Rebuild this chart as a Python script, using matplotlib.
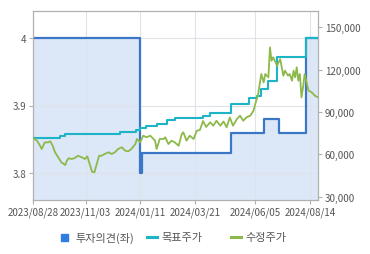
import matplotlib
matplotlib.use("Agg")
import matplotlib.pyplot as plt
import matplotlib.dates as mdates
from matplotlib.lines import Line2D
from matplotlib.patches import Rectangle
from matplotlib.ticker import FuncFormatter
import pandas as pd

plt.rcParams['font.family'] = ['Noto Sans CJK KR', 'DejaVu Sans']

start_date = "2023-08-28"
end_day = 362

# 투자의견 (left axis), step changes: day offset from start_date, value
opinion_day = [0, 136, 139, 252, 294, 313, 347]
opinion_val = [4.0, 3.8, 3.83, 3.86, 3.88, 3.86, 4.0]

# 목표주가 (right axis), step changes
target_day = [0, 34, 41, 110, 131, 136, 144, 157, 170, 180, 216, 225, 251, 274, 284, 290, 299, 310, 347]
target_val = [71400, 72800, 74200, 75600, 77500, 78500, 80300, 81500, 84300, 86000,
              87400, 89000, 95700, 99800, 101500, 106300, 112200, 128700, 142400]

# 수정주가 (right axis)
price_day = [0, 5, 9, 11, 15, 19, 22, 25, 28, 32, 36, 41, 43, 45, 49, 53, 57, 62, 66, 69,
             72, 75, 78, 81, 84, 87, 91, 96, 100, 104, 108, 113, 117, 121, 125, 130, 132, 136,
             140, 144, 149, 155, 157, 161, 166, 168, 172, 176, 180, 185, 189, 191, 195, 199,
             204, 208, 212, 216, 220, 225, 229, 233, 238, 242, 246, 250, 254, 259, 263, 267,
             271, 276, 280, 282, 286, 290, 293, 295, 299, 301, 303, 305, 310, 314, 318, 320,
             324, 326, 329, 331, 333, 335, 337, 339, 341, 343, 345, 348, 350, 354, 358, 362]
price_val = [71600, 69700, 66100, 63800, 68500, 68500, 69200, 66100, 61450, 57900, 54400,
             52450, 55500, 57200, 56700, 57400, 59000, 57900, 56700, 58600, 53200, 47700,
             47300, 53200, 59000, 59000, 60250, 61450, 60250, 61450, 63800, 65000, 62600,
             62150, 63800, 67300, 70900, 68500, 73200, 72100, 73200, 69700, 63800, 70900,
             70900, 72100, 67300, 69700, 68500, 66100, 74400, 75600, 69700, 73200, 70900,
             76750, 77250, 83600, 79400, 82700, 80300, 83800, 80300, 83300, 79200, 86200,
             80300, 85000, 87400, 83800, 86200, 87400, 90900, 95000, 102750, 116900, 111000,
             116900, 114600, 135800, 126300, 128750, 122800, 127500, 115700, 119300, 115700,
             116900, 112200, 119300, 114600, 121700, 112200, 116900, 100400, 107500, 116900,
             109800, 105100, 103950, 101550, 100400]

x_ticks = ["2023-08-28", "2023-11-03", "2024-01-11", "2024-03-21", "2024-06-05", "2024-08-14"]
left_ticks = [3.8, 3.9, 4.0]
left_labels = ["3.8", "3.9", "4"]
right_ticks = [30000, 60000, 90000, 120000, 150000]
legend_labels = ["투자의견(좌)", "목표주가", "수정주가"]

base = pd.Timestamp(start_date)
def to_dates(days):
    return [base + pd.Timedelta(days=d) for d in days]

end_date = base + pd.Timedelta(days=end_day)

op_x = to_dates(opinion_day) + [end_date]
op_y = opinion_val + [opinion_val[-1]]
tg_x = to_dates(target_day) + [end_date]
tg_y = target_val + [target_val[-1]]
pr_x = to_dates(price_day)

c_fill = '#dce7f7'
c_blue = '#3a77c6'
c_cyan = '#1db4c8'
c_green = '#8db94b'
c_spine = '#b0b0b0'
c_text = '#555555'
c_grid = '#dfe3e8'

fig = plt.figure(figsize=(3.7, 2.55), dpi=100)
ax = fig.add_axes([33/370, 1-201/255, (318-33)/370, (201-12)/255])
ax2 = ax.twinx()

y_lo, y_hi = 3.76, 4.04
ax.fill_between(op_x, op_y, y_lo, step='post', color=c_fill, lw=0, zorder=1)
ax.step(op_x, op_y, where='post', color=c_blue, lw=1.6, zorder=3)
ax.set_ylim(y_lo, y_hi)
ax.set_xlim(base, end_date)

ax2.step(tg_x, tg_y, where='post', color=c_cyan, lw=1.5, zorder=3)
ax2.plot(pr_x, price_val, color=c_green, lw=1.3, zorder=4)
ax2.set_ylim(27660, 161550)

ax.set_axisbelow(False)
ax.grid(True, color=c_grid, lw=0.8, zorder=2)
ax.set_xticks(pd.to_datetime(x_ticks))
ax.xaxis.set_major_formatter(mdates.DateFormatter('%Y/%m/%d'))
ax.set_yticks(left_ticks)
ax.set_yticklabels(left_labels)
ax2.set_yticks(right_ticks)
ax2.yaxis.set_major_formatter(FuncFormatter(lambda v, p: f"{int(v):,}"))

for a in (ax, ax2):
    for s in a.spines.values():
        s.set_color(c_spine)
        s.set_linewidth(0.8)
    a.tick_params(colors=c_spine, labelcolor=c_text, length=3, width=0.8, labelsize=7, pad=2)

# legend (manual)
ly = 1 - 238/255
fig.patches.append(Rectangle((61/370, ly - 3.5/255), 7/370, 7/255, transform=fig.transFigure,
                             color='#2f7de0', figure=fig))
fig.text(75/370, ly, legend_labels[0], fontsize=8, color=c_text, va='center', ha='left')
fig.lines.append(Line2D([147/370, 157/370], [ly, ly], transform=fig.transFigure, color=c_cyan, lw=2.2))
fig.text(161/370, ly, legend_labels[1], fontsize=8, color=c_text, va='center', ha='left')
fig.lines.append(Line2D([231/370, 241/370], [ly, ly], transform=fig.transFigure, color=c_green, lw=2.2))
fig.text(245/370, ly, legend_labels[2], fontsize=8, color=c_text, va='center', ha='left')

fig.savefig('out.png', dpi=100)
